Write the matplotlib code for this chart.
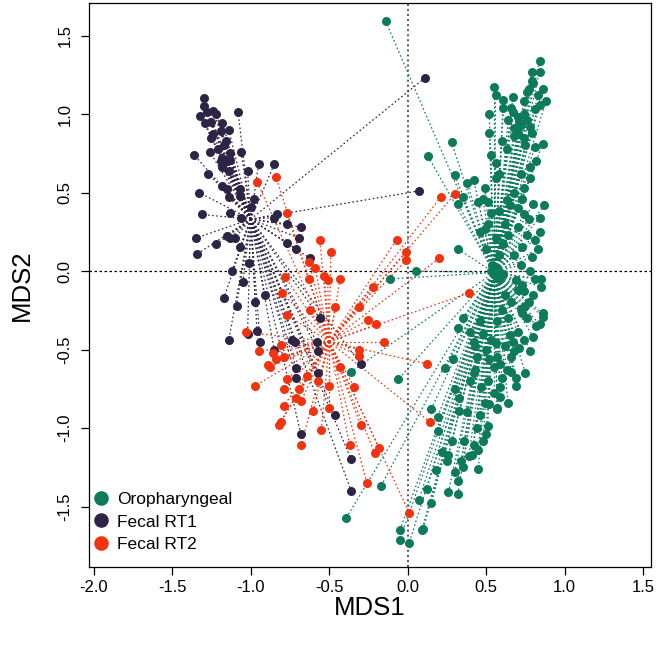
import matplotlib
matplotlib.use("Agg")
import matplotlib.pyplot as plt
from matplotlib.lines import Line2D

plt.rcParams['font.family'] = ['Liberation Sans', 'DejaVu Sans']

groups = ["Oropharyngeal", "Fecal RT1", "Fecal RT2"]
colors = ["#0d7a5c", "#2e2445", "#f2330f"]

oro_x = [-0.14, 0.84, 0.79, 0.84, 0.79, 0.55, 0.77, 0.86, 0.76, 0.56, 0.61, 0.67, 0.83, 0.84, 0.74, 0.61, 0.52,
         0.67, 0.74, 0.76, 0.71, 0.68, 0.78, 0.52, 0.79, 0.60, 0.68, 0.74, 0.86, 0.81, 0.53, 0.56, 0.78, 0.38,
         0.42, 0.56, 0.74, 0.49, 0.35, 0.48, 0.51, 0.73, 0.65, 0.87, 0.58, 0.74, 0.77, 0.84, 0.49, 0.84, 0.56,
         0.76, 0.50, 0.61, 0.68, 0.79, 0.54, 0.57, 0.72, 0.78, 0.61,
         0.28, 0.13, 0.30, 0.32, 0.45, 0.53, 0.32, 0.51, 0.46,
         0.05, -0.11, -0.06, -0.36, -0.39, -0.17,
         0.35, 0.32, 0.40, 0.46, 0.57, 0.70, 0.65, 0.82, 0.86, 0.86, 0.77, 0.72, 0.73, 0.85, 0.85, 0.81, 0.69,
         0.73, 0.74, 0.70, 0.53, 0.56, 0.58, 0.42, 0.43, 0.53, 0.56, 0.67, 0.68, 0.71, 0.78, 0.74, 0.29, 0.52,
         0.57, 0.59, 0.55, 0.63, 0.66, 0.69, 0.75, 0.69, 0.43, 0.42, 0.51, 0.47, 0.30, 0.59, 0.59, 0.64, 0.57,
         0.33, 0.49, 0.52, 0.33, 0.46, 0.51, 0.19, 0.19, 0.50, 0.48, 0.42, 0.45, 0.41, 0.39, 0.34, 0.35, 0.26,
         0.25, 0.18, 0.32, 0.26, 0.32, 0.12, 0.15, 0.07, 0.09, 0.10, -0.05, -0.05, 0.01, 0.84, 0.57,
         0.66, 0.70, 0.72, 0.64, 0.70, 0.75, 0.82, 0.78, 0.72, 0.68, 0.63, 0.70, 0.80, 0.62, 0.70, 0.81, 0.64,
         0.73, 0.58, 0.83, 0.80, 0.81, 0.88, 0.63, 0.58,
         0.62, 0.66, 0.60, 0.64, 0.76, 0.62, 0.48, 0.50, 0.60, 0.55, 0.40, 0.38, 0.44, 0.36, 0.28, 0.22, 0.30,
         0.80, 0.75, 0.66, 0.44, 0.24, 0.15, 0.45, 0.80]
oro_y = [1.59, 1.34, 1.27, 1.27, 1.21, 1.17, 1.16, 1.16, 1.14, 1.12, 1.09, 1.11, 1.12, 1.06, 1.08, 1.04, 1.00,
         1.01, 1.00, 0.96, 0.95, 0.91, 0.92, 0.88, 0.88, 0.83, 0.86, 0.85, 0.81, 0.79, 0.74, 0.69, 0.59, 0.56,
         0.58, 0.59, 0.53, 0.53, 0.47, 0.46, 0.44, 0.46, 0.42, 0.42, 0.38, 0.36, 0.33, 0.34, 0.27, 0.25, 0.21,
         0.23, 0.14, 0.17, 0.10, 0.09, 0.04, 0.01, 0.04, 0.00, -0.02,
         0.82, 0.73, 0.61, 0.43, 0.44, 0.37, 0.14, 0.30, 0.25,
         0.00, -0.05, -0.69, -0.64, -1.57, -1.37,
         -0.30, -0.36, -0.39, -0.32, -0.32, -0.39, -0.41, -0.35, -0.27, -0.29, -0.20, -0.24, -0.27, -0.10,
         -0.05, -0.05, -0.06, -0.09, -0.13, -0.12, 0.00, -0.03, -0.05, -0.45, -0.48, -0.44, -0.46, -0.45,
         -0.51, -0.49, -0.51, -0.44, -0.56, -0.56, -0.55, -0.59, -0.61, -0.63, -0.64, -0.68, -0.65, -0.73,
         -0.63, -0.65, -0.70, -0.74, -0.75, -0.74, -0.80, -0.84, -0.87, -0.81, -0.84, -0.85, -0.89, -0.92,
         -0.99, -0.93, -1.02, -1.04, -1.08, -1.11, -1.14, -1.17, -1.18, -1.21, -1.25, -1.17, -1.21, -1.27,
         -1.34, -1.41, -1.42, -1.39, -1.48, -1.46, -1.65, -1.64, -1.65, -1.71, -1.73, -0.34, -0.88,
         1.04, 0.98, 0.93, 0.96, 0.88, 0.80, 0.70, 0.66, 0.62, 0.50, 0.45, 0.40, 0.43, 0.30, 0.28, 0.20, 0.23,
         0.15, 0.10, 0.14, 1.20, 1.03, 1.08, 0.78, 0.62,
         -0.15, -0.20, -0.25, -0.30, -0.30, -0.48, -0.40, -0.50, -0.68, -0.78, -0.70, -0.90, -1.00, -1.08,
         -1.08, -1.15, -1.28, -0.42, -0.22, -0.55, -0.55, -0.62, -0.88, -1.26, -0.15]

rt1_x = [-1.30, -1.30, -1.32, -1.28, -1.24, -1.22, -1.18, -1.29, -1.25, -1.08, -1.14, -1.24, -1.25, -1.19,
         -1.16, -1.17, -1.21, -1.26, -1.13, -1.06, -1.36, -1.18, -1.15, -1.19, -1.13, -1.18, -1.14, -0.95,
         -0.85, -1.02, -1.27, -1.18, -1.15, -1.33, -1.07, -1.14, -1.07, -0.98, -1.31, -1.13, -1.06, -1.00,
         -0.83, -0.85, -0.77, -0.68, -1.35, -1.15, -1.13, -1.10, -1.22, -1.07, -0.77, -0.71, -0.69, -1.34,
         -1.01, -1.12, -1.05, -1.17, -0.97, -0.91, -1.09, -1.14, -0.96, -0.94, -1.02, -0.62, -0.56, -0.74,
         -0.72, -0.85, -0.58, -0.57, -0.71, -0.57, -0.71, -0.30, -0.46, -0.68, -0.36, -0.36, 0.07, 0.11]
rt1_y = [1.10, 1.05, 0.99, 1.01, 1.02, 1.00, 0.94, 0.94, 0.95, 1.01, 0.90, 0.87, 0.85, 0.89, 0.83, 0.80,
         0.78, 0.76, 0.75, 0.76, 0.74, 0.72, 0.70, 0.70, 0.71, 0.66, 0.64, 0.68, 0.68, 0.64, 0.62, 0.54, 0.52,
         0.50, 0.52, 0.47, 0.48, 0.46, 0.36, 0.37, 0.34, 0.41, 0.36, 0.34, 0.30, 0.28, 0.21, 0.22, 0.21, 0.21,
         0.17, 0.15, 0.18, 0.14, 0.21, 0.11, 0.05, 0.00, -0.07, -0.17, -0.20, -0.15, -0.22, -0.44, -0.38,
         -0.45, -0.40, 0.08, -0.30, -0.44, -0.45, -0.50, -0.45, -0.51, -0.62, -0.65, -0.68, -0.59, -0.92,
         -1.04, -1.20, -1.40, 0.51, 1.23]

rt2_x = [-0.84, -0.96, -0.77, -0.56, -0.49, -0.07, -0.01, -0.01, -0.63, -0.59, -0.53, -0.51, -0.43, -0.63,
         -0.78, -0.22, -0.80, -0.46, -0.31, -0.25, -0.20, -0.77, -0.62, -0.15, -1.03, -0.81, -0.79, -0.95,
         -0.86, -0.84, -0.89, -0.88, -0.97, -0.77, -0.69, -0.79, -0.64, -0.57, -0.50, -0.43, -0.31, -0.31,
         -0.34, -0.71, -0.68, -0.79, -0.60, -0.50, -0.81, -0.82, -0.55, -0.30, -0.68, -0.37, -0.18, -0.21,
         -0.26, 0.21, 0.30, 0.20, 0.39, 0.12, 0.14, 0.01]
rt2_y = [0.60, 0.57, 0.37, 0.20, 0.12, 0.20, 0.12, 0.07, 0.06, 0.02, -0.03, -0.06, -0.05, -0.05, -0.04,
         -0.10, -0.14, -0.23, -0.23, -0.31, -0.34, -0.28, -0.25, -0.45, -0.39, -0.47, -0.55, -0.51, -0.52,
         -0.56, -0.60, -0.61, -0.73, -0.69, -0.75, -0.75, -0.67, -0.70, -0.73, -0.61, -0.50, -0.54, -0.74,
         -0.81, -0.83, -0.86, -0.89, -0.87, -0.96, -0.98, -1.01, -0.98, -1.11, -1.11, -1.13, -1.16, -1.35,
         0.47, 0.49, 0.08, -0.14, -0.59, -0.96, -1.54]

centroid_x = [0.55, -1.00, -0.50]
centroid_y = [-0.01, 0.33, -0.45]

xticks = [-2.0, -1.5, -1.0, -0.5, 0.0, 0.5, 1.0, 1.5]
yticks = [-1.5, -1.0, -0.5, 0.0, 0.5, 1.0, 1.5]

fig = plt.figure(figsize=(6.57, 6.46), dpi=100)
ax = fig.add_axes([89 / 657, 79 / 646, 562 / 657, 564 / 646])
ax.set_xlim(-2.03, 1.55)
ax.set_ylim(-1.885, 1.707)

ax.axvline(0, color="#555555", lw=1.4, ls=(0, (1, 1.6)), zorder=1)
ax.axhline(0, color="black", lw=0.9, ls=(0, (2, 2)), zorder=1)

data = [(oro_x, oro_y), (rt1_x, rt1_y), (rt2_x, rt2_y)]
for (xs, ys), c, cx, cy in zip(data, colors, centroid_x, centroid_y):
    for x, y in zip(xs, ys):
        ax.plot([cx, x], [cy, y], color=c, lw=0.9, ls=(0, (1.3, 2.0)), zorder=2)
for (xs, ys), c in zip(data, colors):
    ax.plot(xs, ys, 'o', color=c, ms=6.5, mec='none', zorder=3)

ax.set_xticks(xticks)
ax.set_yticks(yticks)
ax.set_xticklabels([f"{v:.1f}" for v in xticks])
ax.set_yticklabels([f"{v:.1f}" for v in yticks], rotation=90, va='center')
ax.tick_params(direction='out', length=6, width=0.9, labelsize=12)
ax.tick_params(axis='x', pad=3)
ax.tick_params(axis='y', pad=6)
for s in ax.spines.values():
    s.set_linewidth(0.9)

ax.set_xlabel("MDS1", fontsize=18.5, labelpad=1)
ax.set_ylabel("MDS2", fontsize=18.5, labelpad=17)

handles = [Line2D([], [], ls='none', marker='o', color=c, ms=10.5, mec='none') for c in colors]
ax.legend(handles, groups, loc='lower left', bbox_to_anchor=(-0.0125, 0.0106), frameon=False,
          fontsize=12.5, handletextpad=0.3, borderaxespad=0.3, labelspacing=0.44, handlelength=1.2,
          borderpad=0.2)

fig.savefig("out.png", dpi=100)
